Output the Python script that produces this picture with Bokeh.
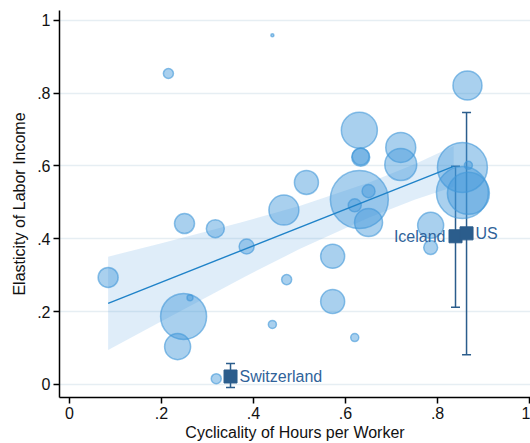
from bokeh.plotting import figure
from bokeh.models import ColumnDataSource, FixedTicker, Whisker, TeeHead, Range1d
from bokeh.core.properties import value
from bokeh.embed import file_html
from bokeh.resources import INLINE
import numpy as np

# ---- data ----
hours_cyc = [0.215, 0.441, 0.865, 0.630, 0.633, 0.633, 0.720, 0.720, 0.515, 0.466,
             0.630, 0.650, 0.620, 0.650, 0.854, 0.854, 0.867, 0.867, 0.785, 0.785,
             0.572, 0.572, 0.472, 0.441, 0.620, 0.250, 0.317, 0.385, 0.084, 0.262,
             0.248, 0.235, 0.319]
income_elas = [0.854, 0.959, 0.821, 0.698, 0.624, 0.626, 0.651, 0.604, 0.555, 0.479,
               0.508, 0.531, 0.492, 0.445, 0.596, 0.527, 0.525, 0.602, 0.437, 0.376,
               0.352, 0.228, 0.288, 0.165, 0.129, 0.442, 0.428, 0.379, 0.294, 0.238,
               0.187, 0.104, 0.016]
weight = [2.8, 0.25, 23.4, 36.0, 9.0, 8.0, 25.0, 28.4, 16.0, 25.0,
          93.4, 4.7, 4.7, 21.8, 69.4, 75.1, 49.0, 1.8, 18.8, 5.4,
          16.0, 16.0, 2.8, 1.8, 1.8, 11.1, 9.0, 6.3, 11.1, 1.0,
          58.8, 18.8, 2.8]

fit_x = [0.084, 0.835]
fit_y = [0.223, 0.599]
band_x = [0.084, 0.200, 0.372, 0.500, 0.650, 0.750, 0.835]
band_lo = [0.095, 0.174, 0.290, 0.372, 0.458, 0.507, 0.543]
band_hi = [0.351, 0.388, 0.445, 0.490, 0.554, 0.605, 0.655]

countries = ["Iceland", "US", "Switzerland"]
c_x = [0.839, 0.863, 0.350]
c_y = [0.407, 0.415, 0.022]
c_lo = [0.212, 0.082, -0.008]
c_hi = [0.599, 0.747, 0.058]

x_ticks = [0, 0.2, 0.4, 0.6, 0.8, 1]
x_tick_labels = ["0", ".2", ".4", ".6", ".8", "1"]
y_ticks = [0, 0.2, 0.4, 0.6, 0.8, 1]
y_tick_labels = ["0", ".2", ".4", ".6", ".8", "1"]

FONT = "Liberation Sans"
BUB = "#4197d9"
DARK = "#2b5d8c"

p = figure(width=530, height=443, output_backend="svg", toolbar_location=None,
           x_range=Range1d(-0.0217, 1.002), y_range=Range1d(-0.0357, 1.027),
           min_border_left=59, min_border_right=0, min_border_top=10, min_border_bottom=46)
p.outline_line_color = None
p.background_fill_color = "white"

bub = ColumnDataSource(dict(x=hours_cyc, y=income_elas,
                            s=[6.0 * np.sqrt(w) for w in weight]))
p.scatter("x", "y", size="s", source=bub, fill_color=BUB, fill_alpha=0.45,
          line_color=BUB, line_alpha=0.6, line_width=1.5)

p.varea(x=band_x, y1=band_lo, y2=band_hi, fill_color=BUB, fill_alpha=0.17)
p.line(fit_x, fit_y, line_color="#1f82c8", line_width=1.4)

cs = ColumnDataSource(dict(x=c_x, y=c_y, lo=c_lo, hi=c_hi, name=countries))
wh = Whisker(base="x", lower="lo", upper="hi", source=cs, dimension="height",
             line_color=DARK, line_width=1.5,
             upper_head=TeeHead(size=9, line_color=DARK, line_width=1.5),
             lower_head=TeeHead(size=9, line_color=DARK, line_width=1.5))
p.add_layout(wh)
p.scatter("x", "y", source=cs, marker="square", size=13, fill_color=DARK, line_color=DARK)

lab_l = ColumnDataSource(dict(x=c_x[:1], y=c_y[:1], t=countries[:1]))
lab_r = ColumnDataSource(dict(x=c_x[1:], y=c_y[1:], t=countries[1:]))
p.text("x", "y", text="t", source=lab_l, x_offset=-10, text_align="right",
       text_baseline="middle", text_font=value(FONT), text_font_size="16px",
       text_color="#30639a")
p.text("x", "y", text="t", source=lab_r, x_offset=9, text_align="left",
       text_baseline="middle", text_font=value(FONT), text_font_size="16px",
       text_color="#30639a")

for ax in (p.xaxis[0], p.yaxis[0]):
    ax.axis_line_color = "black"
    ax.axis_line_width = 1.5
    ax.major_tick_line_color = "black"
    ax.major_tick_line_width = 1.5
    ax.major_tick_in = 0
    ax.major_tick_out = 6
    ax.minor_tick_line_color = None
    ax.major_label_text_font = FONT
    ax.major_label_text_font_size = "16px"
    ax.major_label_text_color = "#111111"
    ax.axis_label_text_font = FONT
    ax.axis_label_text_font_size = "16px"
    ax.axis_label_text_font_style = "normal"
    ax.axis_label_text_color = "#111111"
    ax.major_label_standoff = 3

p.xaxis.ticker = FixedTicker(ticks=x_ticks)
p.yaxis.ticker = FixedTicker(ticks=y_ticks)
p.xaxis.major_label_overrides = dict(zip(x_ticks, x_tick_labels))
p.yaxis.major_label_overrides = dict(zip(y_ticks, y_tick_labels))
p.xaxis.axis_label = "Cyclicality of Hours per Worker"
p.yaxis.axis_label = "Elasticity of Labor Income"
p.xaxis.axis_label_standoff = 2
p.yaxis.axis_label_standoff = 6

p.xgrid.grid_line_color = None
p.ygrid.grid_line_color = "#e6eef3"
p.ygrid.grid_line_width = 1.5

open("out.html", "w").write(file_html(p, INLINE))
